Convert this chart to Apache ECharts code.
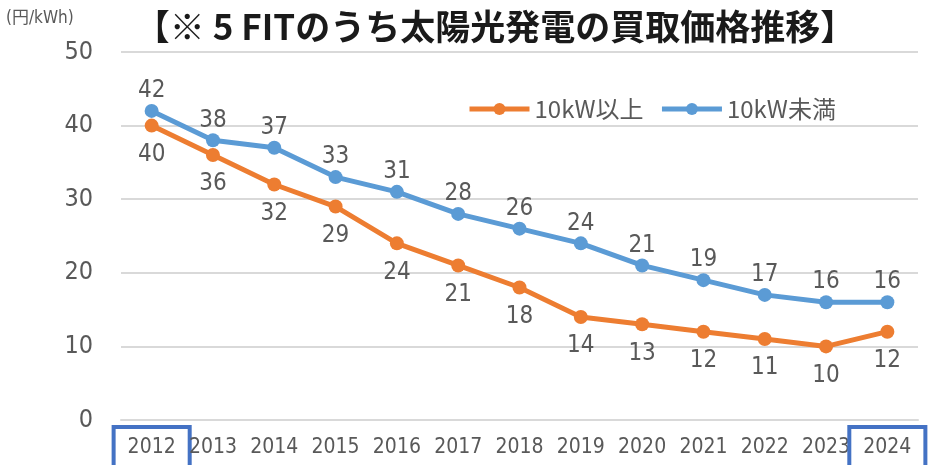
<!DOCTYPE html>
<html><head><meta charset="utf-8">
<script src="https://cdn.jsdelivr.net/npm/echarts@6/dist/echarts.min.js"></script>
<style>html,body{margin:0;padding:0;background:#fff}#c{width:935px;height:465px}</style>
</head><body><div id="c"></div>
<script>
// FIT purchase prices for solar power (yen/kWh)
const years = ['2012','2013','2014','2015','2016','2017','2018','2019','2020','2021','2022','2023','2024'];
const over10kW = [40,36,32,29,24,21,18,14,13,12,11,10,12];
const under10kW = [42,38,37,33,31,28,26,24,21,19,17,16,16];
const yTicks = [0,10,20,30,40,50];
const highlightYears = ['2012','2024'];

const narrow = "'Liberation Sans Narrow','DejaVu Sans Condensed','Noto Sans CJK JP',sans-serif";
const cjk = "'Noto Sans CJK JP','Noto Sans',sans-serif";

const labelBase = {fontFamily:narrow, fontSize:21, color:'#595959', padding:[10,14,14,14]};

const chart = echarts.init(document.getElementById('c'), null, {renderer:'canvas'});
chart.setOption({
  animation:false,
  backgroundColor:'#fff',
  title:{
    text:'【※ 5 FITのうち太陽光発電の買取価格推移】',
    left:490, textAlign:'center', top:4,
    textStyle:{fontFamily:cjk, fontWeight:'bold', fontSize:35, color:'#1a1a1a'}
  },
  graphic:[{
    type:'text', left:6, top:10,
    style:{text:'(円/kWh)', font:"17px "+narrow, fill:'#595959'}
  }],
  legend:{
    top:92, left:462,
    itemWidth:60, itemHeight:15, itemGap:16,
    lineStyle:{width:5},
    textStyle:{fontFamily:cjk, fontSize:24, color:'#595959'},
    data:['10kW以上','10kW未満']
  },
  grid:{left:121, right:17, top:52, bottom:45, outerBoundsMode:'none'},
  xAxis:{
    type:'category', data:years, boundaryGap:true,
    axisLine:{lineStyle:{color:'#D9D9D9', width:2}},
    axisTick:{show:false},
    axisLabel:{
      margin:7, interval:0, fontFamily:narrow, fontSize:21, color:'#595959',
      formatter:v => (highlightYears.includes(v) ? '{hl|' : '{n|') + v + '}',
      rich:{
        n:labelBase,
        hl:Object.assign({}, labelBase, {borderColor:'#4472C4', borderWidth:4})
      }
    }
  },
  yAxis:{
    type:'value', min:yTicks[0], max:yTicks[yTicks.length-1], interval:10,
    axisLine:{show:false}, axisTick:{show:false},
    axisLabel:{margin:28, fontFamily:narrow, fontSize:25, color:'#595959'},
    splitLine:{lineStyle:{color:'#D9D9D9', width:2}}
  },
  series:[
    {
      name:'10kW以上', type:'line', data:over10kW,
      color:'#ED7D31', symbol:'circle', symbolSize:14,
      lineStyle:{width:5},
      label:{show:true, position:'bottom', distance:10, fontFamily:narrow, fontSize:24, color:'#595959'}
    },
    {
      name:'10kW未満', type:'line', data:under10kW,
      color:'#5B9BD5', symbol:'circle', symbolSize:14,
      lineStyle:{width:5},
      label:{show:true, position:'top', distance:1, fontFamily:narrow, fontSize:24, color:'#595959'}
    }
  ]
});
</script></body></html>
